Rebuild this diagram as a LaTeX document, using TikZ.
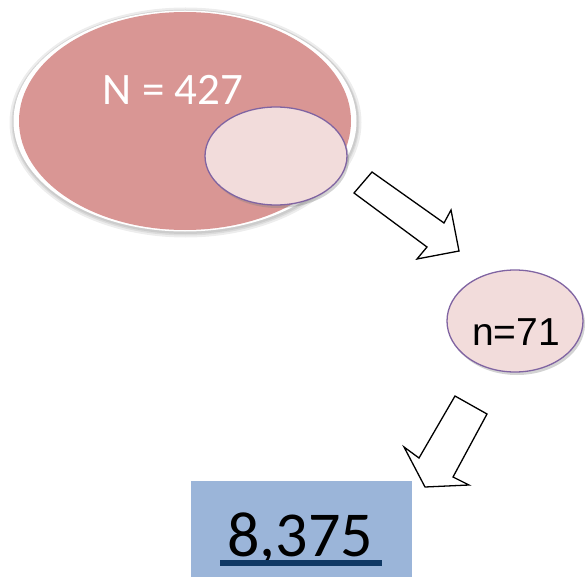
\documentclass[tikz,border=0pt]{standalone}
\usepackage{fontspec}
\setmainfont{Carlito}
\newfontfamily\arialfont{Liberation Sans}
\usetikzlibrary{shapes.geometric,shadows}
\definecolor{bigpink}{HTML}{D99694}
\definecolor{lightpink}{HTML}{F2DCDB}
\definecolor{rimpurple}{HTML}{8064A2}
\definecolor{boxblue}{HTML}{9BB5D9}
\definecolor{navyline}{HTML}{0F3864}
\tikzset{
  softshadow/.style={drop shadow={opacity=0.35, shadow xshift=2pt, shadow yshift=-3pt}},
  smallell/.style={ellipse, inner sep=0pt, fill=lightpink, draw=rimpurple, line width=1.3pt, softshadow},
  blockarrow/.style={draw=black, line width=1.3pt, fill=white, line join=miter},
  glow/.style={ellipse, inner sep=0pt, fill=black, fill opacity=0.07},
}
\begin{document}
\begin{tikzpicture}[x=1pt,y=-1pt]
\useasboundingbox (0,0) rectangle (585,577);
% soft glow round the big ellipse
\node[glow, minimum width=352pt, minimum height=230pt] (glowa) at (185.5,122.5) {};
\node[glow, minimum width=348pt, minimum height=226pt] (glowb) at (185.5,122.5) {};
\node[glow, minimum width=346pt, minimum height=224pt] (glowc) at (185.5,122) {};
% big population ellipse
\node[ellipse, inner sep=0pt, minimum width=343pt, minimum height=221pt, fill=white] (popouter) at (185,121) {};
\node[ellipse, inner sep=0pt, minimum width=332pt, minimum height=218pt, fill=bigpink] (pop) at (185,121) {};
\node[text=white, font=\fontsize{45}{50}\selectfont, anchor=base] (popN) at (173,105) {N = 427};
% sample ellipse inside
\node[smallell, minimum width=142pt, minimum height=98pt] (sample) at (276,156) {};
% arrow 1
\coordinate (a1) at (354,193);
\coordinate (a2) at (372,172);
\coordinate (a3) at (444,223);
\coordinate (a4) at (451,210);
\coordinate (a5) at (459,251);
\coordinate (a6) at (417,259);
\coordinate (a7) at (427,247);
\draw[blockarrow] (a1) -- (a2) -- (a3) -- (a4) -- (a5) -- (a6) -- (a7) -- cycle;
% n=71 ellipse
\node[smallell, minimum width=136pt, minimum height=102pt] (nsample) at (515,321) {};
\node[font=\arialfont\fontsize{39}{44}\selectfont, anchor=base] (ntext) at (516,345) {n=71};
% arrow 2
\coordinate (b1) at (455,396);
\coordinate (b2) at (487,414);
\coordinate (b3) at (453,477);
\coordinate (b4) at (469,485);
\coordinate (b5) at (425,487);
\coordinate (b6) at (404,447);
\coordinate (b7) at (419,458);
\draw[blockarrow] (b1) -- (b2) -- (b3) -- (b4) -- (b5) -- (b6) -- (b7) -- cycle;
% result box
\node[fill=boxblue, inner sep=0pt, minimum width=221pt, minimum height=96pt] (result) at (301.5,529) {};
\node[font=\fontsize{64}{70}\selectfont, anchor=base] (resulttext) at (300,556) {8,375};
\fill[navyline] (220,560) rectangle (382,566);
\end{tikzpicture}
\end{document}
